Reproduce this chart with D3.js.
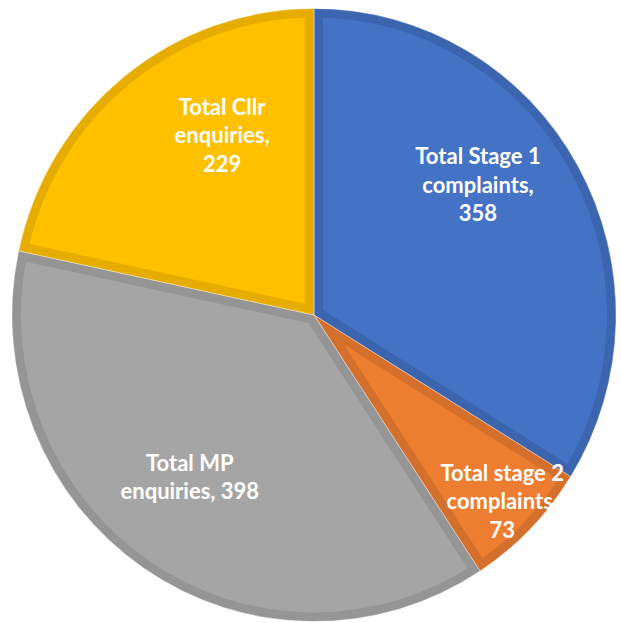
<!DOCTYPE html>
<html>
<head>
<meta charset="utf-8">
<script src="https://cdn.jsdelivr.net/npm/d3@7"></script>
<style>
  html, body { margin: 0; padding: 0; background: #ffffff; }
  svg { display: block; }
  .lbl { font-family: Lato, "Open Sans", sans-serif; font-weight: 700; fill: #ffffff; }
</style>
</head>
<body>
<div id="chart"></div>
<script>
// Enquiries and complaints totals
const categories = ["Total Stage 1 complaints", "Total stage 2 complaints", "Total MP enquiries", "Total Cllr enquiries"];
const values = [358, 73, 398, 229];
const labelLines = [
  ["Total Stage 1", "complaints,", "358"],
  ["Total stage 2", "complaints,", "73"],
  ["Total MP", "enquiries, 398"],
  ["Total Cllr", "enquiries,", "229"]
];
const fills = ["#4472C4", "#ED7D31", "#A5A5A5", "#FFC000"];
const edges = ["#3C65B0", "#D4702C", "#959595", "#E6AD00"];
// Label placement: distance from the centre (fraction of radius) and angular shift (degrees)
const labelRadius = [0.69, 0.87, 0.67, 0.66];
const labelShift = [-9, 0, 3.5, 11.5];

const W = 621, H = 623;
const cx = 314, cy = 315, R = 302, yStretch = 1.015;

const svg = d3.select("#chart").append("svg").attr("width", W).attr("height", H);
const g = svg.append("g").attr("transform", `translate(${cx},${cy}) scale(1,${yStretch})`);

const pie = d3.pie().sort(null).value(d => d)(values);
const arc = d3.arc().innerRadius(0).outerRadius(R);

const defs = svg.append("defs");
pie.forEach((p, i) => {
  defs.append("clipPath").attr("id", "clip" + i).append("path").attr("d", arc(p));
});

const slices = g.selectAll("g.slice").data(pie).join("g").attr("class", "slice");
slices.append("path")
  .attr("d", arc)
  .attr("fill", (d, i) => fills[i])
  .attr("stroke", (d, i) => edges[i])
  .attr("stroke-width", 18)
  .attr("stroke-linejoin", "miter")
  .attr("clip-path", (d, i) => `url(#clip${i})`);
slices.append("path")
  .attr("d", arc)
  .attr("fill", "none")
  .attr("stroke", "#ffffff")
  .attr("stroke-opacity", 0.5)
  .attr("stroke-width", 0.8);

const lineH = 28.5;
const labels = svg.append("g");
pie.forEach((p, i) => {
  const a = (p.startAngle + p.endAngle) / 2 + labelShift[i] * Math.PI / 180;
  const r = R * labelRadius[i];
  const x = cx + r * Math.sin(a);
  const y = cy - r * Math.cos(a) * yStretch;
  const lines = labelLines[i];
  const t = labels.append("text").attr("class", "lbl")
    .attr("text-anchor", "middle")
    .attr("font-size", 22)
    .attr("x", x).attr("y", y);
  lines.forEach((s, k) => {
    t.append("tspan").attr("x", x)
      .attr("y", y + (k - (lines.length - 1) / 2) * lineH + 8)
      .text(s);
  });
});
</script>
</body>
</html>
